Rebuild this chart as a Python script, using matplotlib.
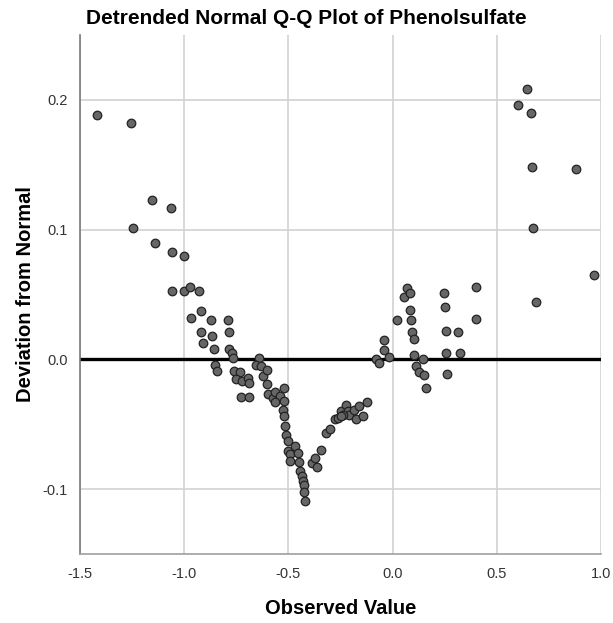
import numpy as np
import matplotlib.pyplot as plt

plt.rcParams['font.family'] = ['Liberation Sans', 'DejaVu Sans']

# observed value / deviation from normal for each case
observed = [
    -1.420, -1.256, -1.155, -1.064, -1.244, -1.140, -1.059, -1.000, -1.059, -1.000,
    -0.971, -0.927, -0.968, -0.920, -0.871, -0.789, -0.917, -0.866, -0.784, -0.908,
    -0.856, -0.784, -0.773, -0.765, -0.853, -0.843, -0.643, -0.655, -0.632, -0.624,
    -0.605, -0.760, -0.732, -0.752, -0.723, -0.696, -0.691, -0.603, -0.728, -0.691,
    -0.600, -0.576, -0.563, -0.523, -0.539, -0.520, -0.563,
    -0.527, -0.519, -0.515, -0.511, -0.504, -0.504, -0.490, -0.492, -0.467, -0.456,
    -0.447, -0.444, -0.436, -0.431, -0.426, -0.423, -0.418, -0.386, -0.362, -0.370,
    -0.343, -0.319, -0.300, -0.274, -0.263, -0.247, -0.226, -0.215, -0.207, -0.183,
    -0.175, -0.159, -0.143, -0.122, -0.240, -0.250,
    -0.079, -0.067, -0.039, -0.039, -0.018, 0.022, 0.071, 0.053, 0.082, 0.082,
    0.090, 0.093, 0.101, 0.102, 0.114, 0.126, 0.145, 0.150, 0.158, 0.247,
    0.252, 0.255, 0.255, 0.260, 0.314, 0.322, 0.402, 0.402,
    0.647, 0.602, 0.666, 0.670, 0.880, 0.674, 0.968, 0.686,
]
deviation = [
    0.188, 0.182, 0.123, 0.117, 0.101, 0.090, 0.083, 0.080, 0.053, 0.053,
    0.056, 0.053, 0.032, 0.037, 0.030, 0.030, 0.021, 0.018, 0.021, 0.013,
    0.008, 0.008, 0.005, 0.001, -0.004, -0.009, 0.001, -0.004, -0.005, -0.013,
    -0.008, -0.009, -0.010, -0.015, -0.017, -0.014, -0.018, -0.019, -0.029, -0.029,
    -0.027, -0.030, -0.025, -0.022, -0.028, -0.032, -0.033,
    -0.039, -0.044, -0.051, -0.058, -0.063, -0.071, -0.073, -0.078, -0.067, -0.072,
    -0.079, -0.086, -0.090, -0.094, -0.097, -0.102, -0.109, -0.080, -0.083, -0.076,
    -0.070, -0.057, -0.054, -0.046, -0.045, -0.040, -0.035, -0.040, -0.043, -0.039,
    -0.046, -0.036, -0.044, -0.033, -0.043, -0.044,
    0.000, -0.003, 0.015, 0.007, 0.002, 0.030, 0.055, 0.048, 0.051, 0.038,
    0.030, 0.021, 0.016, 0.003, -0.005, -0.010, 0.000, -0.012, -0.022, 0.051,
    0.040, 0.022, 0.005, -0.011, 0.021, 0.005, 0.056, 0.031,
    0.208, 0.196, 0.190, 0.148, 0.147, 0.101, 0.065, 0.044,
]

x_ticks = [-1.5, -1.0, -0.5, 0.0, 0.5, 1.0]
y_ticks = [-0.1, 0.0, 0.1, 0.2]

fig = plt.figure(figsize=(6.13, 6.23), dpi=100)
ax = fig.add_axes([80 / 613, 1 - 554 / 623, 521 / 613, 519 / 623])

ax.set_xlim(-1.5, 1.0)
ax.set_ylim(-0.15, 0.25)
ax.set_xticks(x_ticks)
ax.set_yticks(y_ticks)
ax.set_xticklabels([f"{v:.1f}" for v in x_ticks])
ax.set_yticklabels([f"{v:.1f}" for v in y_ticks])
ax.tick_params(length=0, labelsize=10.5, labelcolor="#333333", pad=9)

ax.grid(True, color="#d2d2d2", linewidth=1.2)
ax.set_axisbelow(True)
for side in ["top", "right"]:
    ax.spines[side].set_visible(False)
ax.spines["left"].set_color("#7a7a7a")
ax.spines["bottom"].set_color("#a0a0a0")
ax.spines["left"].set_linewidth(1.2)
ax.spines["bottom"].set_linewidth(1.2)

# reference line at zero deviation
ax.axhline(0, color="black", linewidth=2.4, zorder=2)

ax.scatter(observed, deviation, s=38, facecolor="#666666", edgecolor="#222222",
           linewidth=0.9, zorder=3)

ax.set_xlabel("Observed Value", fontsize=14.5, fontweight="bold", labelpad=13)
ax.set_ylabel("Deviation from Normal", fontsize=14.5, fontweight="bold", labelpad=5)
fig.text(0.5, 1 - 18 / 623, "Detrended Normal Q-Q Plot of Phenolsulfate",
         ha="center", va="center", fontsize=15, fontweight="bold")

fig.savefig("out.png", dpi=100)
